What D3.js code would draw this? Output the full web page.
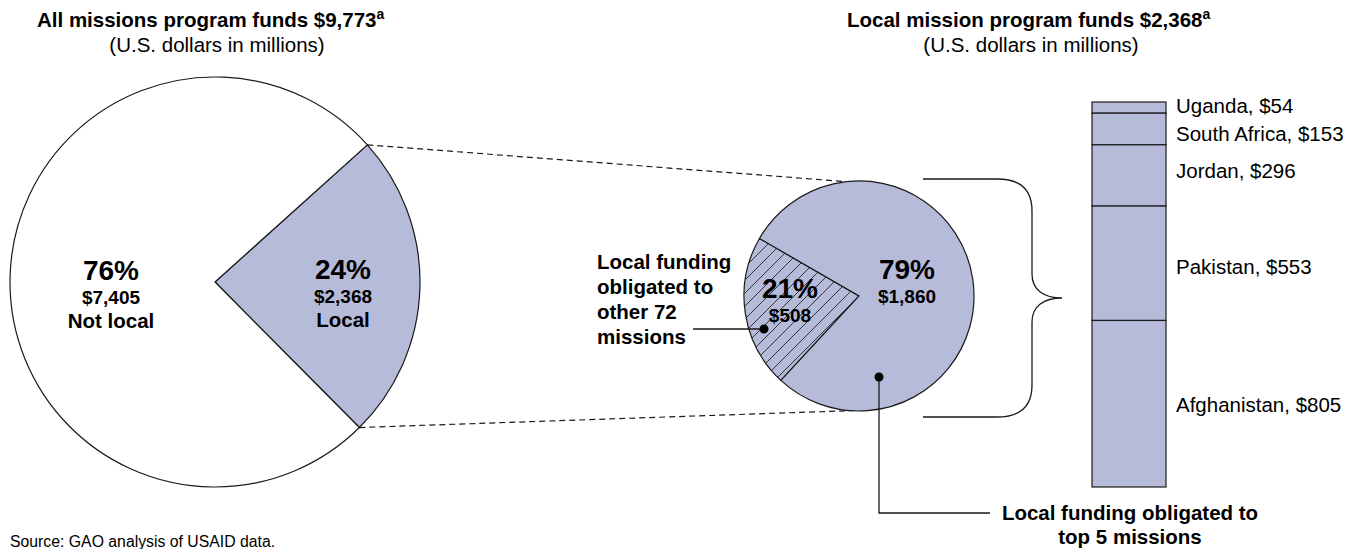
<!DOCTYPE html>
<html>
<head>
<meta charset="utf-8">
<script src="https://cdn.jsdelivr.net/npm/d3@7"></script>
<style>
  html, body { margin: 0; padding: 0; background: #fff; }
  svg { display: block; font-family: "Liberation Sans", Arial, Helvetica, sans-serif; }
</style>
</head>
<body>
<svg id="chart" width="1361" height="549"></svg>
<script>
// ---- Data ----
const allCategories = ["Local", "Not local"];
const allValues = [2368, 7405];
const allPercents = ["24%", "76%"];
const allTotal = "$9,773";

const localCategories = ["Other 72 missions", "Top 5 missions"];
const localValues = [508, 1860];
const localPercents = ["21%", "79%"];
const localTotal = "$2,368";

const topMissions = ["Uganda", "South Africa", "Jordan", "Pakistan", "Afghanistan"];
const topValues = [54, 153, 296, 553, 805];

// ---- Style ----
const FILL = "#b7bbda";
const STROKE = "#1a1a1a";
const fmt = d3.format("$,");

const svg = d3.select("#chart");
const defs = svg.append("defs");
const H = 13;
const pat = defs.append("pattern")
  .attr("id", "hatch").attr("patternUnits", "userSpaceOnUse")
  .attr("width", H).attr("height", H);
pat.append("rect").attr("width", H).attr("height", H).attr("fill", FILL);
pat.append("path").attr("d", `M-3,3 L3,-3 M0,${H} L${H},0 M${H - 3},${H + 3} L${H + 3},${H - 3}`)
  .attr("stroke", "#333").attr("stroke-width", 1);

// ---- Titles ----
function title(x, anchor, y, main, sup) {
  const t = svg.append("text").attr("x", x).attr("y", y).attr("text-anchor", anchor)
    .attr("font-weight", "bold").attr("font-size", 20.5).attr("fill", "#000");
  t.append("tspan").text(main);
  t.append("tspan").attr("dy", -8).attr("font-size", 14).text(sup);
}
title(37, "start", 27, "All missions program funds " + allTotal, "a");
svg.append("text").attr("x", 217).attr("y", 52).attr("text-anchor", "middle")
  .attr("font-size", 20.5).text("(U.S. dollars in millions)");
title(847, "start", 27, "Local mission program funds " + localTotal, "a");
svg.append("text").attr("x", 1031).attr("y", 52).attr("text-anchor", "middle")
  .attr("font-size", 20.5).text("(U.S. dollars in millions)");

// ---- Big pie ----
const big = { cx: 215, cy: 282, r: 205 };
const bigStart = 48 * Math.PI / 180;
const bigArcs = d3.pie().sort(null).startAngle(bigStart).endAngle(bigStart + 2 * Math.PI)(allValues);
const bigG = svg.append("g").attr("transform", `translate(${big.cx},${big.cy})`);
const bigArc = d3.arc().innerRadius(0).outerRadius(big.r);
bigG.selectAll("path").data(bigArcs).join("path")
  .attr("d", bigArc)
  .attr("fill", (d, i) => i === 0 ? FILL : "#fff")
  .attr("stroke", STROKE).attr("stroke-width", 1.2).attr("stroke-linejoin", "round");

function pieLabel(x, lines) {
  lines.forEach(l => {
    svg.append("text").attr("x", x).attr("y", l.y).attr("text-anchor", "middle")
      .attr("font-weight", "bold").attr("font-size", l.size).text(l.t);
  });
}
pieLabel(111, [
  { t: allPercents[1], y: 280, size: 28 },
  { t: fmt(allValues[1]), y: 304, size: 19 },
  { t: allCategories[1], y: 328, size: 20.5 }
]);
pieLabel(343, [
  { t: allPercents[0], y: 279, size: 28 },
  { t: fmt(allValues[0]), y: 303, size: 19 },
  { t: allCategories[0], y: 327, size: 20.5 }
]);

// ---- Small pie ----
const sm = { cx: 859, cy: 296, r: 115 };
const smStart = (300 - 77.2) * Math.PI / 180;
const smArcs = d3.pie().sort(null).startAngle(smStart).endAngle(smStart + 2 * Math.PI)(localValues);
const smArc = d3.arc().innerRadius(0).outerRadius(sm.r);

// dashed connectors from the local wedge edge to the small pie
function edgePoint(angle, r, c) {
  return [c.cx + r * Math.sin(angle), c.cy - r * Math.cos(angle)];
}
const p1 = edgePoint(bigArcs[0].startAngle, big.r, big);
const p2 = edgePoint(bigArcs[0].endAngle, big.r, big);
svg.append("line").attr("x1", p1[0]).attr("y1", p1[1]).attr("x2", sm.cx - 8).attr("y2", sm.cy - sm.r + 1)
  .attr("stroke", STROKE).attr("stroke-width", 1.2).attr("stroke-dasharray", "6,4");
svg.append("line").attr("x1", p2[0]).attr("y1", p2[1]).attr("x2", sm.cx - 4).attr("y2", sm.cy + sm.r - 0.5)
  .attr("stroke", STROKE).attr("stroke-width", 1.2).attr("stroke-dasharray", "6,4");

const smG = svg.append("g").attr("transform", `translate(${sm.cx},${sm.cy})`);
smG.selectAll("path").data(smArcs).join("path")
  .attr("d", smArc)
  .attr("fill", (d, i) => i === 0 ? "url(#hatch)" : FILL)
  .attr("stroke", STROKE).attr("stroke-width", 1.2).attr("stroke-linejoin", "miter");

pieLabel(907, [
  { t: localPercents[1], y: 279, size: 28 },
  { t: fmt(localValues[1]), y: 303, size: 19 }
]);
pieLabel(790, [
  { t: localPercents[0], y: 298, size: 28 },
  { t: fmt(localValues[0]), y: 322, size: 19 }
]);

// annotation: other missions
const otherLines = ["Local funding", "obligated to", "other 72", "missions"];
otherLines.forEach((t, i) => {
  svg.append("text").attr("x", 597).attr("y", 269 + i * 25)
    .attr("font-weight", "bold").attr("font-size", 20.5).text(t);
});
svg.append("line").attr("x1", 693).attr("y1", 329).attr("x2", 764).attr("y2", 329)
  .attr("stroke", STROKE).attr("stroke-width", 1.3);
svg.append("circle").attr("cx", 764).attr("cy", 329).attr("r", 4.5).attr("fill", "#000");

// annotation: top 5 missions
svg.append("path").attr("d", "M879,377 V513 H990").attr("fill", "none")
  .attr("stroke", STROKE).attr("stroke-width", 1.3);
svg.append("circle").attr("cx", 879).attr("cy", 377).attr("r", 4.5).attr("fill", "#000");
["Local funding obligated to", "top 5 missions"].forEach((t, i) => {
  svg.append("text").attr("x", 1130).attr("y", 520 + i * 24).attr("text-anchor", "middle")
    .attr("font-weight", "bold").attr("font-size", 20.5).text(t);
});

// ---- Brace ----
const br = { x0: 923, x1: 1032, tip: 1062, top: 179, bot: 417 };
const mid = (br.top + br.bot) / 2;
svg.append("path").attr("d",
  `M${br.x0},${br.top} L${br.x1 - 35},${br.top} C${br.x1 - 10},${br.top} ${br.x1},${br.top + 12} ${br.x1},${br.top + 32} ` +
  `L${br.x1},${mid - 24} C${br.x1},${mid - 8} ${br.x1 + 12},${mid} ${br.tip},${mid} ` +
  `C${br.x1 + 12},${mid} ${br.x1},${mid + 8} ${br.x1},${mid + 24} ` +
  `L${br.x1},${br.bot - 32} C${br.x1},${br.bot - 12} ${br.x1 - 10},${br.bot} ${br.x1 - 35},${br.bot} L${br.x0},${br.bot}`)
  .attr("fill", "none").attr("stroke", STROKE).attr("stroke-width", 1.3);

// ---- Stacked bar ----
const barX = 1092, barW = 74;
const total = d3.sum(topValues);
const y = d3.scaleLinear().domain([0, total]).range([102, 487]);
const cum = d3.cumsum(topValues);
const segs = topValues.map((v, i) => ({ name: topMissions[i], v, y0: cum[i] - v, y1: cum[i] }));
svg.append("g").selectAll("rect").data(segs).join("rect")
  .attr("x", barX).attr("width", barW)
  .attr("y", d => y(d.y0)).attr("height", d => y(d.y1) - y(d.y0))
  .attr("fill", FILL).attr("stroke", STROKE).attr("stroke-width", 1.2);

const labelY = [113, 141, 178, 274, 412];
svg.append("g").selectAll("text").data(segs).join("text")
  .attr("x", 1176).attr("y", (d, i) => labelY[i])
  .attr("font-size", 20.5).text(d => `${d.name}, ${fmt(d.v)}`);

// ---- Source ----
svg.append("text").attr("x", 10).attr("y", 547).attr("font-size", 15.8)
  .text("Source: GAO analysis of USAID data.");
</script>
</body>
</html>
